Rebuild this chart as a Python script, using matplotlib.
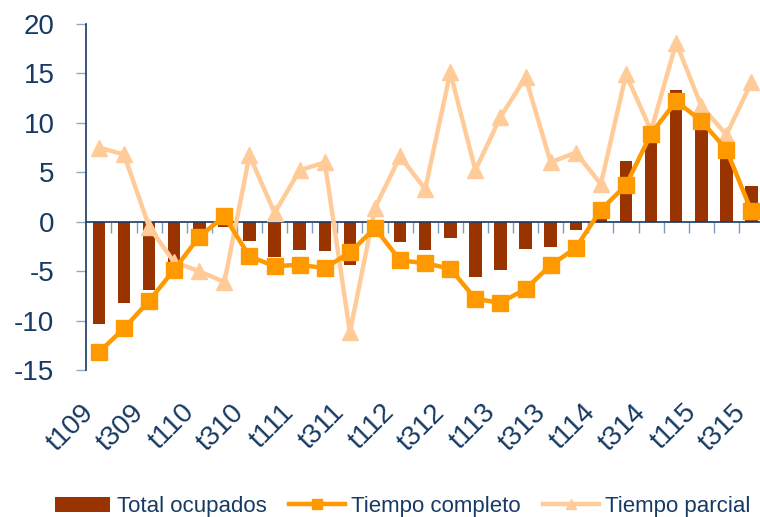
import numpy as np
import matplotlib
matplotlib.use('Agg')
import matplotlib.pyplot as plt

plt.rcParams['font.family'] = ['Liberation Sans', 'DejaVu Sans']
plt.rcParams['axes.unicode_minus'] = False

'''data: year-on-year change (%) by quarter'''
quarters = ['t109', 't209', 't309', 't409', 't110', 't210', 't310', 't410',
            't111', 't211', 't311', 't411', 't112', 't212', 't312', 't412',
            't113', 't213', 't313', 't413', 't114', 't214', 't314', 't414',
            't115', 't215', 't315']
total_ocupados = [-10.3, -8.2, -6.9, -4.2, -0.7, -0.5, -1.9, -3.6, -2.9, -3.0,
                  -4.4, -0.4, -2.1, -2.9, -1.65, -5.6, -4.85, -2.8, -2.55, -0.8,
                  0.6, 6.1, 9.5, 13.35, 9.9, 7.1, 3.6]
tiempo_completo = [-13.2, -10.8, -8.0, -4.85, -1.5, 0.55, -3.5, -4.5, -4.35, -4.7,
                   -3.1, -0.65, -3.9, -4.2, -4.75, -7.8, -8.2, -6.8, -4.4, -2.65,
                   1.2, 3.7, 8.9, 12.2, 10.2, 7.3, 1.05]
tiempo_parcial = [7.5, 6.8, -0.5, -4.1, -5.0, -6.1, 6.7, 0.9, 5.2, 6.0,
                  -11.2, 1.4, 6.6, 3.3, 15.1, 5.2, 10.6, 14.6, 6.0, 7.0,
                  3.8, 14.9, 9.2, 18.1, 11.7, 8.8, 14.1]

navy = '#173A64'
x = np.arange(len(quarters))

fig = plt.figure(figsize=(7.6, 5.17), dpi=100)
ax = fig.add_axes([0.1136, 0.2843, 0.8917, 0.6693])

b = ax.bar(x, total_ocupados, width=0.5, color='#993300', label='Total ocupados', zorder=2)
lp, = ax.plot(x, tiempo_parcial, color='#FFCC99', lw=3.2, marker='^', ms=12,
              label='Tiempo parcial', zorder=3)
lc, = ax.plot(x, tiempo_completo, color='#FF9900', lw=3.2, marker='s', ms=11,
              label='Tiempo completo', zorder=4)

ax.set_xlim(-0.5, len(quarters) - 0.5)
ax.set_ylim(-15, 20)
ax.set_yticks(np.arange(-15, 21, 5))

'''axis at zero with ticks between categories'''
ax.spines['bottom'].set_position(('data', 0))
ax.spines['bottom'].set_color(navy)
ax.spines['bottom'].set_linewidth(1.2)
ax.spines['left'].set_color(navy)
ax.spines['left'].set_linewidth(1.2)
ax.spines['top'].set_visible(False)
ax.spines['right'].set_visible(False)
ax.set_xticks([])
ax.set_xticks(x[:-1] + 0.5, minor=True)
ax.tick_params(axis='x', which='minor', length=8, width=1, color='#7F9CC0', direction='out')
ax.tick_params(axis='y', length=7, width=1, color='#8EA9C8', labelsize=20,
               labelcolor=navy, pad=16)

'''category labels at the bottom of the plot'''
sec = ax.secondary_xaxis(0.0)
sec.set_xticks(x[::2], [quarters[i] for i in x[::2]], rotation=45, ha='right')
sec.spines['bottom'].set_visible(False)
sec.tick_params(length=0, pad=21, labelsize=20, labelcolor=navy)

fig.legend(handles=[b, lc, lp], loc='center', bbox_to_anchor=(0.53, 0.02), ncol=3,
           frameon=False, fontsize=16, labelcolor=navy, handlelength=2.5,
           handletextpad=0.3, columnspacing=1.0, markerscale=0.6)

fig.savefig('out.png', dpi=100)
